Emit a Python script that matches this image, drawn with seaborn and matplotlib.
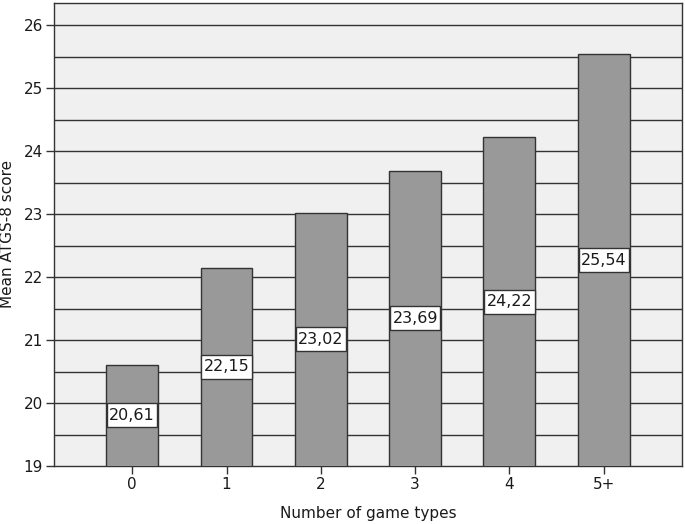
import matplotlib
matplotlib.use("Agg")
import matplotlib.pyplot as plt
from matplotlib.patches import Rectangle
import seaborn as sns
import pandas as pd
import numpy as np

categories = ["0", "1", "2", "3", "4", "5+"]
means = [20.61, 22.15, 23.02, 23.69, 24.22, 25.54]
value_labels = ["20,61", "22,15", "23,02", "23,69", "24,22", "25,54"]
y_ticks = [19, 20, 21, 22, 23, 24, 25, 26]

df = pd.DataFrame({"cat": categories, "mean": means})

sns.set_style("white")
plt.rcParams["font.family"] = ["DejaVu Sans"]

fig = plt.figure(figsize=(6.85, 5.24), dpi=100)
ax = fig.add_axes([0.0788, 0.1107, 0.9168, 0.8845])
ax.set_facecolor("#f0f0f0")

base = 19
bar_w = 0.55
ax.set_ylim(base, 26.36)
ax.set_xlim(-0.83, 5.83)

# grid lines every 0.5
for g in np.arange(19.5, 26.01, 0.5):
    ax.axhline(g, color="#333333", lw=1.0, zorder=1)

sns.barplot(data=df, x="cat", y="mean", order=categories, color="#999999",
            saturation=1, width=bar_w, edgecolor="#333333", linewidth=1.0,
            ax=ax, zorder=3)
ax.set_ylim(base, 26.36)
ax.set_xlim(-0.83, 5.83)

box_w = bar_w * 0.97
box_h = 0.38
for i, (m, lab) in enumerate(zip(means, value_labels)):
    mid = (base + m) / 2
    ax.add_patch(Rectangle((i - box_w / 2, mid - box_h / 2), box_w, box_h,
                           fc="white", ec="#333333", lw=1.0, zorder=4))
    ax.text(i, mid, lab, ha="center", va="center", fontsize=11.5,
            color="#1a1a1a", zorder=5)

ax.set_yticks(y_ticks)
ax.set_yticklabels([str(t) for t in y_ticks])
ax.tick_params(axis="both", direction="out", length=6, width=1.0, color="#333333",
               labelsize=11, labelcolor="#1a1a1a", pad=2, left=True, bottom=True)
for s in ax.spines.values():
    s.set_color("#333333")
    s.set_linewidth(1.0)
    s.set_visible(True)

ax.set_xlabel("Number of game types", fontsize=11, color="#1a1a1a", labelpad=10)
ax.set_ylabel("Mean ATGS-8 score", fontsize=11, color="#1a1a1a", labelpad=6)

fig.savefig("out.png", dpi=100)
